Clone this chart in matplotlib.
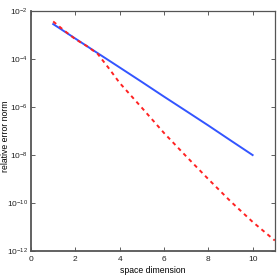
import matplotlib
matplotlib.use('Agg')
import matplotlib.pyplot as plt
import numpy as np

# blue: straight decay on log scale
dim_blue = [1, 2, 3, 4, 5, 6, 7, 8, 9, 10]
err_blue = [2.8e-3, 7.0e-4, 1.75e-4, 4.4e-5, 1.1e-5, 2.7e-6, 6.8e-7, 1.7e-7, 4.1e-8, 1.0e-8]

# red dashed: bends down after ~3
dim_red = [1, 1.5, 2, 2.5, 3, 3.5, 4, 5, 6, 7, 8, 9, 10, 11]
err_red = [3.6e-3, 1.5e-3, 6.6e-4, 3.5e-4, 1.65e-4, 4.2e-5, 1.0e-5, 9.3e-7,
           8.3e-8, 8.9e-9, 1.0e-9, 1.2e-10, 1.66e-11, 2.8e-12]

plt.rcParams['font.family'] = ['Liberation Sans', 'DejaVu Sans']

fig = plt.figure(figsize=(2.77, 2.77), dpi=100)
ax = fig.add_axes([0.112, 0.093, 0.88, 0.868])

ax.semilogy(dim_blue, err_blue, color='#3355ff', lw=1.4)
ax.semilogy(dim_red, err_red, color='#ff2222', lw=1.4, ls=(0, (2, 2)))

ax.set_xlim(0, 11)
ax.set_ylim(1e-12, 1e-2)
ax.set_xticks([0, 2, 4, 6, 8, 10])
ax.set_yticks([1e-12, 1e-10, 1e-8, 1e-6, 1e-4, 1e-2])
ax.yaxis.set_minor_locator(matplotlib.ticker.NullLocator())
ax.tick_params(direction='in', length=3, width=0.6, labelsize=6,
               top=True, right=True, colors='#444444', labelcolor='#222222')
ax.tick_params(axis='y', pad=2)
for s in ax.spines.values():
    s.set_color('#555555')
    s.set_linewidth(0.9)
ax.spines['left'].set_linewidth(1.3)
ax.spines['bottom'].set_linewidth(1.3)

ax.set_xlabel('space dimension', fontsize=6.2, labelpad=2)
ax.set_ylabel('relative error norm', fontsize=6.2)
ax.yaxis.set_label_coords(-0.085, 0.48)

plt.savefig('out.png', dpi=100)
